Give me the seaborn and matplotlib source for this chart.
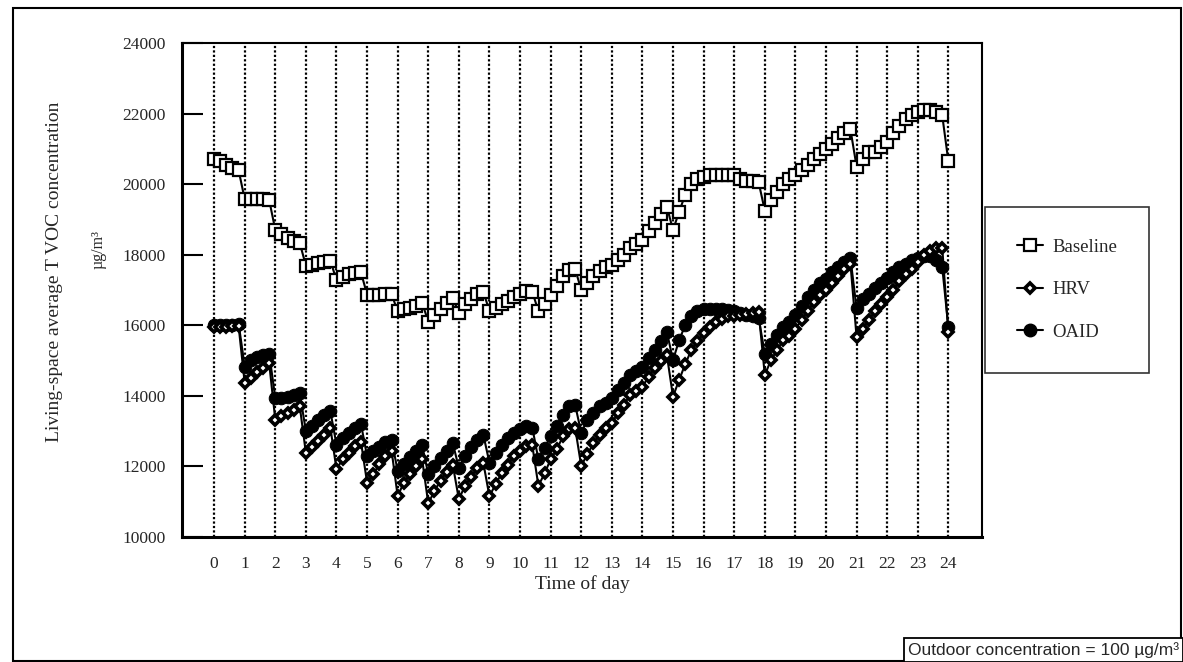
import numpy as np
import pandas as pd
import seaborn as sns
import matplotlib
matplotlib.use("Agg")
import matplotlib.pyplot as plt
from matplotlib.lines import Line2D
from matplotlib.patches import Rectangle

# ---- data (time in hours, 0.2 h steps) ----
hours = [round(i * 0.2, 1) for i in range(121)]
hour_ticks = list(range(0, 25))

baseline = [
    20700, 20650, 20550, 20450, 20400,
    19570, 19570, 19570, 19570, 19550,
    18700, 18580, 18470, 18380, 18330,
    17690, 17720, 17760, 17800, 17830,
    17280, 17380, 17440, 17480, 17500,
    16870, 16870, 16870, 16880, 16880,
    16400, 16450, 16500, 16560, 16640,
    16100, 16300, 16450, 16620, 16780,
    16350, 16600, 16750, 16900, 16950,
    16400, 16500, 16600, 16700, 16800,
    16900, 16970, 16950, 16400, 16600,
    16870, 17100, 17390, 17580, 17600,
    17000, 17200, 17390, 17530, 17650,
    17720, 17860, 18000, 18200, 18300,
    18420, 18660, 18900, 19150, 19360,
    18700, 19220, 19700, 20000, 20150,
    20200, 20250, 20250, 20250, 20250,
    20250, 20150, 20100, 20100, 20050,
    19250, 19550, 19780, 20000, 20150,
    20250, 20400, 20550, 20700, 20850,
    21000, 21150, 21300, 21450, 21550,
    20500, 20700, 20900, 20900, 21050,
    21200, 21450, 21650, 21850, 21950,
    22050, 22100, 22100, 22050, 21950,
    20650,
]

hrv = [
    15950, 15950, 15950, 15970, 15980,
    14360, 14500, 14690, 14780, 14920,
    13320, 13420, 13520, 13610, 13700,
    12380, 12560, 12710, 12900, 13100,
    11920, 12200, 12390, 12570, 12700,
    11540, 11780, 12060, 12290, 12450,
    11160, 11540, 11780, 12010, 12200,
    10950, 11300, 11600, 11850, 12050,
    11070, 11450, 11700, 11950, 12100,
    11150, 11500, 11800, 12050, 12300,
    12450, 12570, 12600, 11450, 11800,
    12200, 12480, 12850, 13050, 13100,
    12010, 12350, 12650, 12900, 13100,
    13230, 13510, 13750, 14030, 14150,
    14260, 14540, 14800, 15000, 15150,
    13980, 14450, 14900, 15300, 15550,
    15770, 15950, 16090, 16190, 16250,
    16250, 16300, 16330, 16350, 16380,
    14590, 15010, 15300, 15580, 15700,
    15900, 16150, 16400, 16650, 16850,
    17000, 17200, 17400, 17600, 17750,
    15670, 15900, 16150, 16400, 16600,
    16800, 17000, 17250, 17450, 17600,
    17800, 18000, 18100, 18200, 18200,
    15800,
]

oaid = [
    16000, 16000, 16000, 16020, 16050,
    14830, 15010, 15110, 15150, 15200,
    13930, 13950, 13980, 14020, 14070,
    13000, 13140, 13320, 13460, 13560,
    12620, 12800, 12950, 13100, 13200,
    12290, 12430, 12560, 12680, 12760,
    11870, 12080, 12280, 12450, 12600,
    11780, 12000, 12250, 12450, 12670,
    11950, 12300, 12550, 12750, 12900,
    12100, 12380, 12600, 12800, 12950,
    13050, 13140, 13100, 12200, 12530,
    12850, 13140, 13460, 13700, 13750,
    12950, 13320, 13510, 13700, 13800,
    13930, 14170, 14360, 14590, 14700,
    14830, 15060, 15300, 15550, 15810,
    15010, 15580, 16000, 16250, 16400,
    16470, 16470, 16450, 16450, 16420,
    16400, 16350, 16300, 16250, 16200,
    15200, 15480, 15720, 15950, 16100,
    16300, 16550, 16800, 17000, 17200,
    17300, 17500, 17650, 17800, 17900,
    16480, 16750, 16900, 17050, 17200,
    17350, 17500, 17650, 17750, 17850,
    17900, 17950, 17950, 17850, 17650,
    15950,
]

series_names = ["Baseline", "HRV", "OAID"]
y_ticks = [10000, 12000, 14000, 16000, 18000, 20000, 22000, 24000]

df = pd.DataFrame({"Time": hours * 3,
                   "Value": baseline + hrv + oaid,
                   "Series": ["Baseline"] * len(hours) + ["HRV"] * len(hours) + ["OAID"] * len(hours)})

# ---- style ----
sns.set_theme(style="white")
plt.rcParams["font.family"] = ["Liberation Serif", "DejaVu Serif"]

fig = plt.figure(figsize=(11.83, 6.62), dpi=100)
ax = fig.add_axes([182 / 1183, 1 - 537 / 662, (982 - 182) / 1183, (537 - 43) / 662])

# vertical dotted gridlines
for h in hour_ticks:
    ax.axvline(h, color="black", linestyle=(0, (1, 1)), linewidth=1.6, zorder=1)

sq = dict(marker="s", markersize=8.5, markerfacecolor="white", markeredgecolor="black", markeredgewidth=1.6)
ci = dict(marker="o", markersize=9, markerfacecolor="black", markeredgecolor="black")
di = dict(marker="D", markersize=5.5, markerfacecolor="white", markeredgecolor="black", markeredgewidth=2.6)

sns.lineplot(data=df[df.Series == "Baseline"], x="Time", y="Value", ax=ax, color="black",
             linewidth=1.5, zorder=3, legend=False, **sq)
sns.lineplot(data=df[df.Series == "OAID"], x="Time", y="Value", ax=ax, color="black",
             linewidth=1.5, zorder=4, legend=False, **ci)
sns.lineplot(data=df[df.Series == "HRV"], x="Time", y="Value", ax=ax, color="black",
             linewidth=1.5, zorder=5, legend=False, **di)

ax.set_xlim(-1.05, 25.1)
ax.set_ylim(10000, 24000)
ax.set_xticks(hour_ticks)
ax.set_xticklabels([str(h) for h in hour_ticks], fontsize=12.5)
ax.set_yticks(y_ticks)
ax.set_yticklabels([str(v) for v in y_ticks], fontsize=12.5)
ax.tick_params(axis="x", length=0, pad=14)
ax.tick_params(axis="y", direction="in", length=15, width=1.5, color="black", pad=12, left=True)
ax.set_xlabel("Time of day", fontsize=14, labelpad=2)
ax.set_ylabel("")
for s in ["left", "bottom"]:
    ax.spines[s].set_linewidth(2.2)
for s in ["top", "right"]:
    ax.spines[s].set_linewidth(1.5)
for s in ax.spines.values():
    s.set_color("black")

# y-axis label (two lines)
fig.text(55 / 1183, 1 - 272 / 662, "Living-space average T VOC concentration", rotation=90,
         ha="center", va="center", fontsize=14)
fig.text(98 / 1183, 1 - 250 / 662, "µg/m³", rotation=90, ha="center", va="center", fontsize=11.5)

# legend
handles = [
    Line2D([0], [0], color="black", lw=1.5, **sq),
    Line2D([0], [0], color="black", lw=1.5, **di),
    Line2D([0], [0], color="black", lw=1.5, **ci),
]
leg = fig.legend(handles, series_names, loc="upper left", bbox_to_anchor=(985 / 1183, 1 - 207 / 662),
                 frameon=True, fancybox=False, edgecolor="black", fontsize=13.5,
                 handlelength=1.4, labelspacing=1.35, borderpad=1.7, handletextpad=0.5, borderaxespad=0)
leg.get_frame().set_linewidth(1.2)

# outer border
fig.patches.append(Rectangle((13 / 1183, 1 / 662), (1181 - 13) / 1183, (654 - 1) / 662,
                             transform=fig.transFigure, fill=False, edgecolor="black", linewidth=1.5))

# footnote box
fig.text(1179 / 1183, 1 - 650 / 662, "Outdoor concentration = 100 µg/m³", ha="right", va="center",
         fontsize=12.5, family=["Liberation Sans", "DejaVu Sans"],
         bbox=dict(boxstyle="square,pad=0.25", fc="white", ec="black", lw=1.3))

fig.savefig("out.png", dpi=100)
